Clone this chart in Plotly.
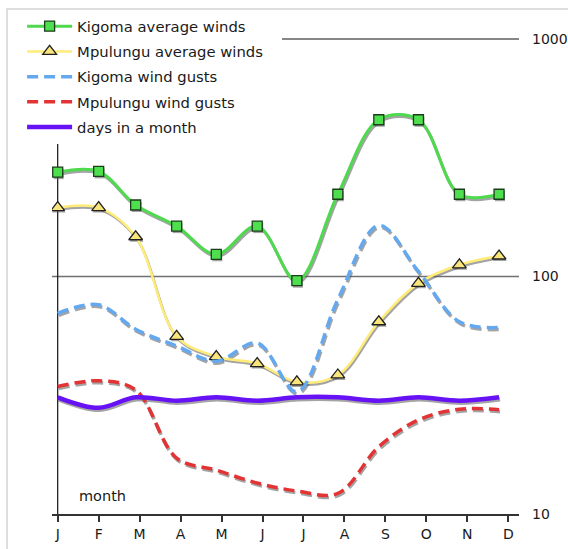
import plotly.graph_objects as go

# Month labels and positions (day of year)
months = ["J", "F", "M", "A", "M", "J", "J", "A", "S", "O", "N", "D"]
month_start_day = [0, 31, 59, 90, 120, 151, 181, 212, 243, 273, 304, 334]
tick_days = [0, 31, 62, 93, 124, 155, 186, 217, 248, 279, 310, 341]

# Series values
kigoma_avg = [275, 277, 200, 163, 124, 163, 96, 222, 457, 457, 222, 222]
mpulungu_avg = [195, 195, 147, 56, 46, 43, 36, 38.5, 64.5, 93.6, 112, 122]
kigoma_gust = [70, 76, 60, 51, 44, 52.5, 32.7, 80, 164, 105, 64.5, 61]
mpulungu_gust = [34.4, 36.4, 33.3, 17.2, 15.3, 13.5, 12.5, 12.2, 19.2, 24.9, 27.6, 27.5]
days_in_month = [31, 28, 31, 30, 31, 30, 31, 31, 30, 31, 30, 31]

y_ticks = [10, 100, 1000]
y_ticktext = ["10", "100", "1000"]

FONT = "DejaVu Sans"
X_RANGE = [-4.31, 349.1]
Y_RANGE = [1.0, 3.0]
SHADOW = "rgba(90,90,90,0.55)"

series = [
    dict(name="Kigoma average winds", y=kigoma_avg,
         line=dict(color="#4fd94f", width=3),
         marker=dict(symbol="square", size=10, color="#4ddf4d",
                     line=dict(color="#1c3d1c", width=1.3)),
         mode="lines+markers"),
    dict(name="Mpulungu average winds", y=mpulungu_avg,
         line=dict(color="#ffec78", width=2.5),
         marker=dict(symbol="triangle-up", size=12, color="#f8e57c",
                     line=dict(color="#202020", width=1.3)),
         mode="lines+markers"),
    dict(name="Kigoma wind gusts", y=kigoma_gust,
         line=dict(color="#64a8f0", width=3.5, dash="11px,6px"),
         marker=None, mode="lines"),
    dict(name="Mpulungu wind gusts", y=mpulungu_gust,
         line=dict(color="#e23434", width=3.5, dash="11px,6px"),
         marker=None, mode="lines"),
    dict(name="days in a month", y=days_in_month,
         line=dict(color="#6612f5", width=4.5),
         marker=None, mode="lines"),
]

fig = go.Figure()

# Drop shadows (offset axes)
for s in series:
    kw = dict(x=month_start_day, y=s["y"], mode=s["mode"],
              line=dict(color=SHADOW, width=s["line"]["width"],
                        dash=s["line"].get("dash", "solid"),
                        shape="spline", smoothing=1),
              xaxis="x2", yaxis="y2", showlegend=False, hoverinfo="skip")
    if s["marker"] is not None:
        kw["marker"] = dict(symbol=s["marker"]["symbol"], size=s["marker"]["size"],
                            color=SHADOW, line=dict(width=0))
    fig.add_trace(go.Scatter(**kw))

# Main series
for i, s in enumerate(series):
    kw = dict(x=month_start_day, y=s["y"], name=s["name"], mode=s["mode"],
              line=dict(s["line"], shape="spline", smoothing=1),
              xaxis="x3", yaxis="y3", legendgroup=f"g{i}")
    if s["marker"] is not None:
        kw["marker"] = s["marker"]
    fig.add_trace(go.Scatter(**kw))

# placeholder on base axes so they render
fig.add_trace(go.Scatter(x=[None], y=[None], showlegend=False, hoverinfo="skip"))

dx = 1 / 1.3213
dy = 2 / 237.5

fig.update_layout(
    width=568, height=549,
    margin=dict(l=52, r=49, t=39, b=35, autoexpand=False),
    paper_bgcolor="white", plot_bgcolor="white",
    font=dict(family=FONT, size=14, color="#1a1a1a"),
    showlegend=True,
    legend=dict(x=-0.064, y=1.061, xanchor="left", yanchor="top",
                bgcolor="white", borderwidth=0, itemwidth=45,
                tracegroupgap=3, font=dict(family=FONT, size=14.8, color="#1a1a1a")),
    xaxis=dict(range=X_RANGE, tickmode="array", tickvals=tick_days, ticktext=months,
               showgrid=False, zeroline=False, showline=True, linecolor="#333",
               linewidth=1.5, ticks="outside", ticklen=6, tickwidth=1.5, tickcolor="#333",
               tickfont=dict(size=14), automargin=False),
    yaxis=dict(type="log", range=Y_RANGE, side="right", tickmode="array",
               tickvals=y_ticks, ticktext=y_ticktext, showgrid=False, zeroline=False,
               showline=False, ticks="", ticklabelstandoff=12, tickfont=dict(size=14),
               automargin=False),
    xaxis2=dict(range=[X_RANGE[0] - dx, X_RANGE[1] - dx], overlaying="x", visible=False),
    yaxis2=dict(type="log", range=[Y_RANGE[0] + dy, Y_RANGE[1] + dy], overlaying="y",
                visible=False),
    xaxis3=dict(range=X_RANGE, overlaying="x", visible=False),
    yaxis3=dict(type="log", range=Y_RANGE, overlaying="y", visible=False),
    shapes=[
        dict(type="rect", xref="paper", yref="paper", x0=-0.0964, x1=1.2, y0=-0.2, y1=1.0632,
             line=dict(color="#dedede", width=2), layer="below"),
        dict(type="line", xref="paper", yref="paper", x0=0.4925, x1=1, y0=1, y1=1,
             line=dict(color="#111", width=1.2), layer="below"),
        dict(type="line", xref="paper", yref="paper", x0=0, x1=1, y0=0.5, y1=0.5,
             line=dict(color="#707070", width=1.6), layer="below"),
        dict(type="line", xref="x", yref="paper", x0=0, x1=0, y0=0, y1=1,
             line=dict(color="#111", width=1.2), layer="below"),
    ],
    annotations=[
        dict(text="month", xref="paper", yref="paper", x=0.1086, y=0.0379,
             xanchor="center", yanchor="middle", showarrow=False,
             font=dict(family=FONT, size=14.5, color="#1a1a1a")),
    ],
)

fig.write_html("out.html")
